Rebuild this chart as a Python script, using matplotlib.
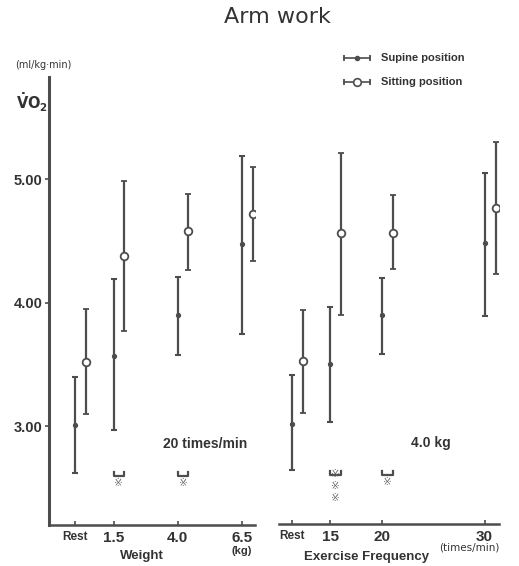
import matplotlib
matplotlib.use("Agg")
import matplotlib.pyplot as plt
from matplotlib import font_manager
from matplotlib.lines import Line2D

# 데이터
weight_ticks = [0, 1.5, 4.0, 6.5]
weight_labels = ["Rest", "1.5", "4.0", "6.5"]
supine_w_mean = [3.01, 3.57, 3.90, 4.48]
supine_w_lo = [2.62, 2.97, 3.58, 3.75]
supine_w_hi = [3.40, 4.19, 4.21, 5.19]
sitting_w_mean = [3.52, 4.38, 4.58, 4.72]
sitting_w_lo = [3.10, 3.77, 4.27, 4.34]
sitting_w_hi = [3.95, 4.99, 4.88, 5.10]
sig_w = [0, 1, 1, 0]

freq_ticks = [11.3, 15, 20, 30]
freq_labels = ["Rest", "15", "20", "30"]
supine_f_mean = [3.01, 3.50, 3.90, 4.48]
supine_f_lo = [2.64, 3.03, 3.58, 3.89]
supine_f_hi = [3.41, 3.96, 4.20, 5.05]
sitting_f_mean = [3.52, 4.56, 4.56, 4.77]
sitting_f_lo = [3.10, 3.90, 4.27, 4.23]
sitting_f_hi = [3.94, 5.21, 4.87, 5.30]
sig_f = [0, 3, 1, 0]

y_ticks = [3.0, 4.0, 5.0]
y_labels = ["3.00", "4.00", "5.00"]

# 폰트
names = {f.name for f in font_manager.fontManager.ttflist}
narrow = "Liberation Sans Narrow" if "Liberation Sans Narrow" in names else "Liberation Sans"
gray = "#4d4d4d"
tcol = "#333333"

fig = plt.figure(figsize=(5.19, 5.66), dpi=100)
ax1 = fig.add_axes([49 / 519, 41 / 566, 206 / 519, 448 / 566])
ax2 = fig.add_axes([279 / 519, 42 / 566, 220 / 519, 447 / 566])


def panel(ax, ticks, s_mean, s_lo, s_hi, t_mean, t_lo, t_hi, sig, off):
    xs = ticks
    xt = [x + off for x in ticks]
    ax.errorbar(xs, s_mean, yerr=[[m - l for m, l in zip(s_mean, s_lo)],
                                  [h - m for m, h in zip(s_mean, s_hi)]],
                fmt="o", ms=2.8, color=gray, ecolor=gray, elinewidth=1.6,
                capsize=2.5, capthick=1.5, zorder=3)
    ax.errorbar(xt, t_mean, yerr=[[m - l for m, l in zip(t_mean, t_lo)],
                                  [h - m for m, h in zip(t_mean, t_hi)]],
                fmt="o", ms=5.5, mfc="white", mec=gray, mew=1.3, color=gray,
                ecolor=gray, elinewidth=1.6, capsize=2.5, capthick=1.5, zorder=3)
    for x0, x1, n in zip(xs, xt, sig):
        if n == 0:
            continue
        ax.plot([x0, x0, x1, x1], [2.63, 2.60, 2.60, 2.63], color=gray, lw=1.6)
        ys = [2.54] if n == 1 else [2.61, 2.51, 2.41]
        for yy in ys:
            ax.text((x0 + x1) / 2, yy, "※", ha="center", va="center", fontsize=7.5,
                    color="#666666", family=["DejaVu Sans", "Noto Sans CJK JP"])
    ax.set_ylim(2.20, 5.83)
    for s in ["top", "right"]:
        ax.spines[s].set_visible(False)
    ax.spines["bottom"].set_linewidth(1.8)
    ax.spines["bottom"].set_color(gray)
    ax.tick_params(axis="x", direction="in", length=3, width=1.2, color=gray, pad=4)


panel(ax1, weight_ticks, supine_w_mean, supine_w_lo, supine_w_hi,
      sitting_w_mean, sitting_w_lo, sitting_w_hi, sig_w, 0.41)
panel(ax2, freq_ticks, supine_f_mean, supine_f_lo, supine_f_hi,
      sitting_f_mean, sitting_f_lo, sitting_f_hi, sig_f, 1.07)

ax1.set_xlim(-1.01, 7.0)
ax2.set_xlim(10.05, 31.4)

ax1.spines["left"].set_linewidth(2.2)
ax1.spines["left"].set_color(gray)
ax1.set_yticks(y_ticks)
ax1.set_yticklabels(y_labels, family=narrow, weight="bold", fontsize=10.5, color=tcol)
ax1.tick_params(axis="y", direction="out", length=3, width=1.2, color=gray, pad=1.5)

ax2.spines["left"].set_visible(False)
ax2.set_yticks([])

for ax, ticks, labels in [(ax1, weight_ticks, weight_labels), (ax2, freq_ticks, freq_labels)]:
    ax.set_xticks(ticks)
    ax.set_xticklabels(labels, family=narrow, weight="bold", color=tcol)
    for lab in ax.get_xticklabels():
        lab.set_fontsize(8.5 if lab.get_text() == "Rest" else 11)

ax1.text(5.06, 2.86, "20 times/min", ha="center", va="center", fontsize=10,
         family="Liberation Sans", weight="bold", color=tcol)
ax2.text(24.8, 2.86, "4.0 kg", ha="center", va="center", fontsize=10,
         family="Liberation Sans", weight="bold", color=tcol)

# 제목 / 라벨
def fx(px):
    return px / 519


def fy(py):
    return 1 - py / 566


fig.text(fx(277), fy(17), "Arm work", ha="center", va="center", fontsize=16, color=tcol)
fig.text(fx(15), fy(65), "(ml/kg\u00b7min)", ha="left", va="center", fontsize=7, color=tcol)
fig.text(fx(16), fy(103), r"$\mathbf{\dot{V}O_2}$", ha="left", va="center", fontsize=10.5, color=tcol)
fig.text(fx(142), fy(556), "Weight", ha="center", va="center", fontsize=9.5,
         family="Liberation Sans", weight="bold", color=tcol)
fig.text(fx(242), fy(551), "(kg)", ha="center", va="center", fontsize=8,
         family="Liberation Sans", weight="bold", color=tcol)
fig.text(fx(367), fy(557), "Exercise Frequency", ha="center", va="center", fontsize=9.5,
         family="Liberation Sans", weight="bold", color=tcol)
fig.text(fx(469), fy(548), "(times/min)", ha="center", va="center", fontsize=7.5, color=tcol)

# 범례 (수평 오차막대 모양)
for py, label, face, ms in [(58, "Supine position", gray, 2.8), (82, "Sitting position", "white", 5.5)]:
    fig.add_artist(Line2D([fx(344), fx(370)], [fy(py)] * 2, color=gray, lw=1.2))
    fig.add_artist(Line2D([fx(344), fx(370)], [fy(py)] * 2, color=gray, ls="none",
                          marker="|", ms=5, mew=1.3))
    fig.add_artist(Line2D([fx(357)], [fy(py)], color=gray, ls="none", marker="o",
                          ms=ms, mfc=face, mec=gray, mew=1.2))
    fig.text(fx(381), fy(py), label, ha="left", va="center", fontsize=8,
             family="Liberation Sans", weight="bold", color=tcol)

fig.savefig("out.png", dpi=100)
